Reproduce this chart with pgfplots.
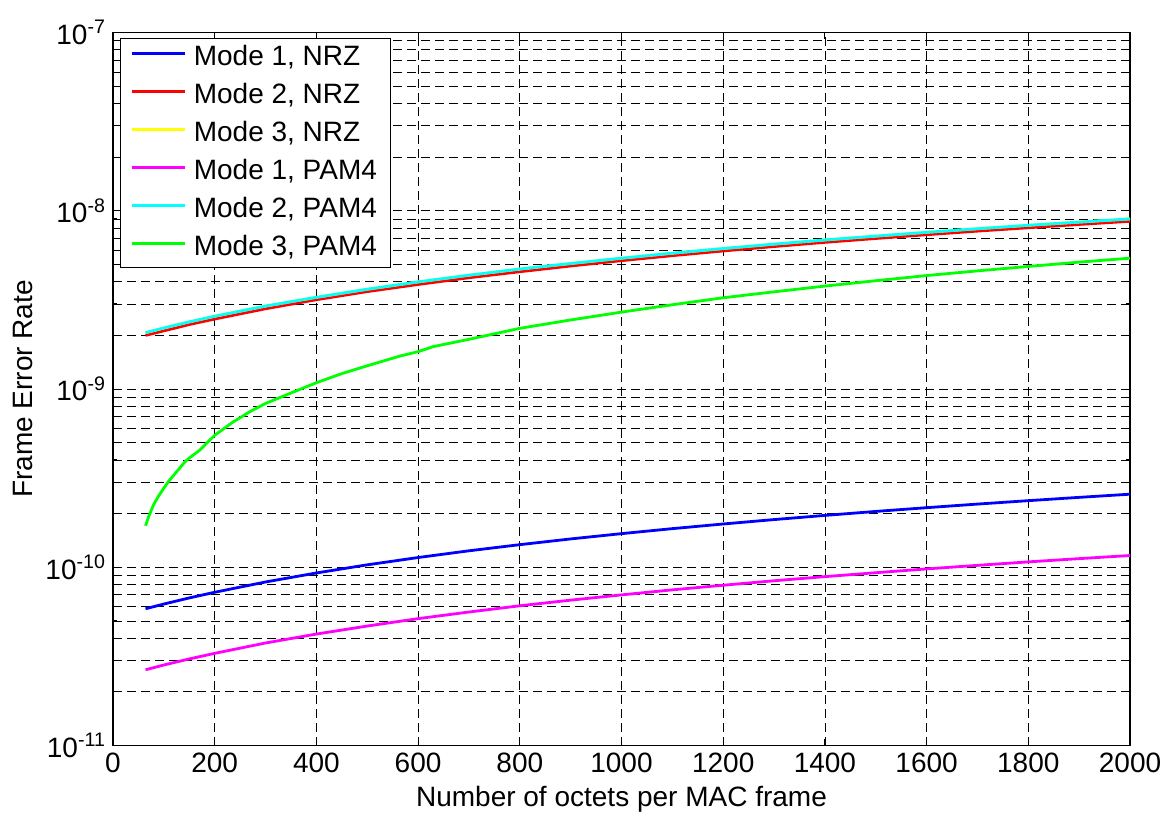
\documentclass[border=0pt]{standalone}
\usepackage{fontspec}
\setmainfont{Liberation Sans}
\usepackage{pgfplots}
\pgfplotsset{compat=1.18}

\definecolor{mblue}{RGB}{0,0,255}
\definecolor{mred}{RGB}{255,0,0}
\definecolor{myellow}{RGB}{255,255,0}
\definecolor{mmagenta}{RGB}{255,0,255}
\definecolor{mcyan}{RGB}{0,255,255}
\definecolor{mgreen}{RGB}{0,255,0}

\newcommand{\chartfont}{\fontsize{14}{16}\selectfont}

\begin{document}
\begin{tikzpicture}
    \begin{axis}[
            scale only axis,
            width=508.5pt,
            height=356.5pt,
            ymode=log,
            log basis y=10,
            xmin=0, xmax=2000,
            ymin=1e-11, ymax=1e-7,
            xtick={0,200,...,2000},
            ytick={1e-11,1e-10,1e-9,1e-8,1e-7},
            minor ytick={2e-11,3e-11,4e-11,5e-11,6e-11,7e-11,8e-11,9e-11,
                    2e-10,3e-10,4e-10,5e-10,6e-10,7e-10,8e-10,9e-10,
                    2e-9,3e-9,4e-9,5e-9,6e-9,7e-9,8e-9,9e-9,
                    2e-8,3e-8,4e-8,5e-8,6e-8,7e-8,8e-8,9e-8},
            yticklabel={10\textsuperscript{\pgfmathparse{int(round(\tick))}\pgfmathresult}},
            /pgf/number format/assume math mode=true,
            scaled x ticks=false,
            xticklabel style={/pgf/number format/1000 sep={}},
            tick label style={font=\chartfont, black},
            label style={font=\chartfont},
            xlabel={Number of octets per MAC frame},
            ylabel={Frame Error Rate},
            xlabel style={at={(axis description cs:0.5,-0.0857)}, anchor=base},
            ylabel style={at={(axis description cs:-0.0787,0.5)}, anchor=base},
            axis line style={black, line width=0.6pt},
            tick align=inside,
            major tick length=3.5pt,
            minor tick length=2pt,
            tick style={black, line width=0.5pt},
            xmajorgrids=true,
            ymajorgrids=true,
            yminorgrids=true,
            major grid style={black, line width=0.4pt, dash pattern=on 4.5pt off 2.5pt},
            minor grid style={black, line width=0.4pt, dash pattern=on 4.5pt off 2.5pt},
            every axis plot/.append style={line width=1.4pt},
            legend image code/.code={\draw[#1] (0pt,2.1pt) -- (26.5pt,2.1pt);},
            legend cell align=left,
            legend style={
                    at={(axis description cs:0,1)}, anchor=north west,
                    xshift=3.5pt, yshift=-2.75pt,
                    font=\chartfont,
                    draw=black, line width=0.5pt, fill=white,
                    inner xsep=5pt, inner ysep=0.25pt,
                    nodes={inner xsep=1.75pt, inner ysep=2.75pt, text height=10.25pt, text depth=3.25pt},
                    /tikz/every odd column/.append style={column sep=2pt},
                },
        ]

        % Mode 1, NRZ
        \addplot[mblue] coordinates {
                (64,5.85e-11) (100,6.22e-11) (150,6.73e-11) (200,7.24e-11) (300,8.27e-11)
                (400,9.29e-11) (500,1.032e-10) (600,1.134e-10) (700,1.237e-10) (800,1.339e-10)
                (900,1.442e-10) (1000,1.544e-10) (1100,1.647e-10) (1200,1.749e-10) (1300,1.852e-10)
                (1400,1.954e-10) (1500,2.057e-10) (1600,2.159e-10) (1700,2.262e-10) (1800,2.364e-10)
                (1900,2.467e-10) (2000,2.570e-10)
            };
        \addlegendentry{Mode 1, NRZ}

        % Mode 2, NRZ
        \addplot[mred] coordinates {
                (64,2.00e-9) (100,2.12e-9) (150,2.30e-9) (200,2.47e-9) (300,2.82e-9)
                (400,3.17e-9) (500,3.52e-9) (600,3.86e-9) (700,4.21e-9) (800,4.55e-9)
                (900,4.90e-9) (1000,5.25e-9) (1100,5.60e-9) (1200,5.95e-9) (1300,6.30e-9)
                (1400,6.65e-9) (1500,6.99e-9) (1600,7.34e-9) (1700,7.69e-9) (1800,8.03e-9)
                (1900,8.38e-9) (2000,8.73e-9)
            };
        \addlegendentry{Mode 2, NRZ}

        % Mode 3, NRZ (hidden under Mode 2, PAM4)
        \addplot[myellow] coordinates {
                (64,2.07e-9) (100,2.20e-9) (150,2.38e-9) (200,2.56e-9) (300,2.92e-9)
                (400,3.27e-9) (500,3.63e-9) (600,3.99e-9) (700,4.35e-9) (800,4.71e-9)
                (900,5.06e-9) (1000,5.42e-9) (1100,5.78e-9) (1200,6.14e-9) (1300,6.50e-9)
                (1400,6.86e-9) (1500,7.21e-9) (1600,7.57e-9) (1700,7.93e-9) (1800,8.29e-9)
                (1900,8.64e-9) (2000,9.00e-9)
            };
        \addlegendentry{Mode 3, NRZ}

        % Mode 1, PAM4
        \addplot[mmagenta] coordinates {
                (64,2.66e-11) (100,2.83e-11) (150,3.06e-11) (200,3.29e-11) (300,3.76e-11)
                (400,4.22e-11) (500,4.68e-11) (600,5.15e-11) (700,5.61e-11) (800,6.08e-11)
                (900,6.54e-11) (1000,7.00e-11) (1100,7.47e-11) (1200,7.93e-11) (1300,8.40e-11)
                (1400,8.86e-11) (1500,9.32e-11) (1600,9.79e-11) (1700,1.025e-10) (1800,1.072e-10)
                (1900,1.118e-10) (2000,1.164e-10)
            };
        \addlegendentry{Mode 1, PAM4}

        % Mode 2, PAM4
        \addplot[mcyan] coordinates {
                (64,2.07e-9) (100,2.20e-9) (150,2.38e-9) (200,2.56e-9) (300,2.92e-9)
                (400,3.27e-9) (500,3.63e-9) (600,3.99e-9) (700,4.35e-9) (800,4.71e-9)
                (900,5.06e-9) (1000,5.42e-9) (1100,5.78e-9) (1200,6.14e-9) (1300,6.50e-9)
                (1400,6.86e-9) (1500,7.21e-9) (1600,7.57e-9) (1700,7.93e-9) (1800,8.29e-9)
                (1900,8.64e-9) (2000,9.00e-9)
            };
        \addlegendentry{Mode 2, PAM4}

        % Mode 3, PAM4
        \addplot[mgreen] coordinates {
                (64,1.71e-10) (70,1.92e-10) (80,2.25e-10) (90,2.52e-10) (100,2.78e-10)
                (110,3.05e-10) (120,3.30e-10) (142,3.92e-10) (150,4.10e-10) (171,4.55e-10)
                (200,5.50e-10) (237,6.56e-10) (250,6.90e-10) (269,7.46e-10) (300,8.30e-10)
                (350,9.50e-10) (400,1.085e-9) (450,1.22e-9) (500,1.35e-9) (564,1.53e-9)
                (600,1.62e-9) (630,1.73e-9) (700,1.90e-9) (800,2.19e-9) (900,2.44e-9)
                (1000,2.70e-9) (1100,2.97e-9) (1200,3.25e-9) (1300,3.51e-9) (1400,3.78e-9)
                (1500,4.05e-9) (1600,4.33e-9) (1700,4.60e-9) (1800,4.87e-9) (1900,5.15e-9)
                (2000,5.42e-9)
            };
        \addlegendentry{Mode 3, PAM4}
    \end{axis}
    \pgfresetboundingbox
    \path ([shift={(-56.5pt,-34.7pt)}]current axis.south west)
        rectangle ([shift={(18pt,16.25pt)}]current axis.north east);
\end{tikzpicture}
\end{document}
